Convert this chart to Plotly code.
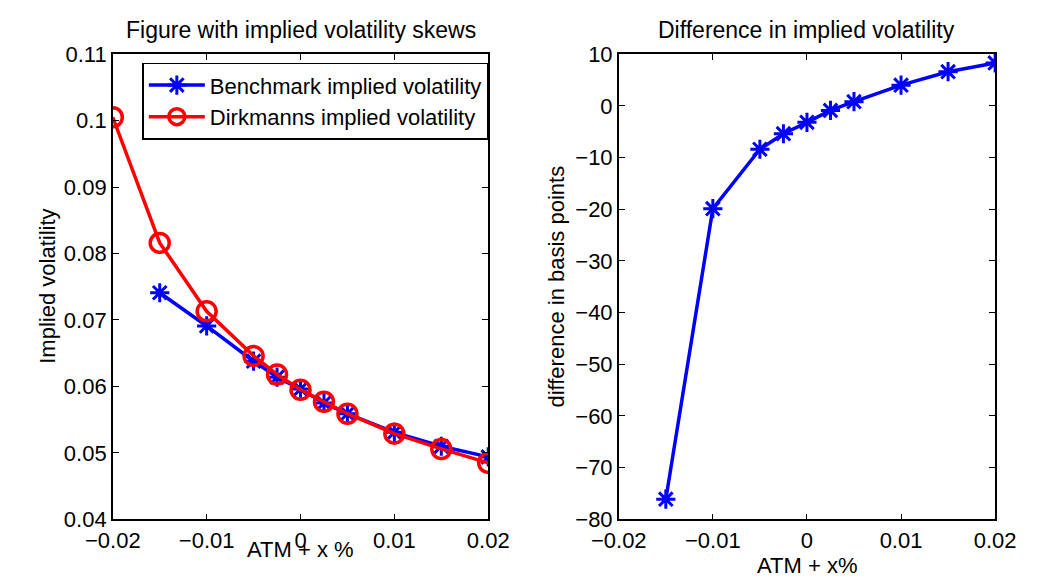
import plotly.graph_objects as go

# ---- data ----
x_bench = [-0.015, -0.01, -0.005, -0.0025, 0.0, 0.0025, 0.005, 0.01, 0.015, 0.02]
iv_bench = [0.0741, 0.0691, 0.0638, 0.0614, 0.0596, 0.0575, 0.0559, 0.0531, 0.0510, 0.0494]

x_dirk = [-0.02, -0.015, -0.01, -0.005, -0.0025, 0.0, 0.0025, 0.005, 0.01, 0.015, 0.02]
iv_dirk = [0.1005, 0.0816, 0.0713, 0.0646, 0.0618, 0.0595, 0.0577, 0.0559, 0.0529, 0.0506, 0.0485]

x_diff = [-0.015, -0.01, -0.005, -0.0025, 0.0, 0.0025, 0.005, 0.01, 0.015, 0.02]
diff_bp = [-76.1, -19.9, -8.4, -5.4, -3.2, -0.9, 0.8, 4.0, 6.6, 8.3]

left_xticks = [-0.02, -0.01, 0, 0.01, 0.02]
left_xlabels = ["\u22120.02", "\u22120.01", "0", "0.01", "0.02"]
left_yticks = [0.04, 0.05, 0.06, 0.07, 0.08, 0.09, 0.1, 0.11]
left_ylabels = ["0.04", "0.05", "0.06", "0.07", "0.08", "0.09", "0.1", "0.11"]
right_xticks = [-0.02, -0.01, 0, 0.01, 0.02]
right_xlabels = ["\u22120.02", "\u22120.01", "0", "0.01", "0.02"]
right_yticks = [-80, -70, -60, -50, -40, -30, -20, -10, 0, 10]
right_ylabels = ["\u221280", "\u221270", "\u221260", "\u221250", "\u221240",
                 "\u221230", "\u221220", "\u221210", "0", "10"]

FONT = "Liberation Sans, Arial, Helvetica, sans-serif"
FS = 22
FT = 23
BLUE = "#0000FF"
RED = "#FF0000"

fig = go.Figure()

fig.add_trace(go.Scatter(
    x=x_bench, y=iv_bench, mode="lines+markers", name="Benchmark implied volatility",
    line=dict(color=BLUE, width=3.5),
    marker=dict(symbol="asterisk-open", size=16, color=BLUE, line=dict(color=BLUE, width=3)),
    xaxis="x", yaxis="y"))
fig.add_trace(go.Scatter(
    x=x_dirk, y=iv_dirk, mode="lines+markers", name="Dirkmanns implied volatility",
    line=dict(color=RED, width=3.5),
    marker=dict(symbol="circle-open", size=19, color=RED, line=dict(color=RED, width=3.5)),
    xaxis="x", yaxis="y"))
fig.add_trace(go.Scatter(
    x=x_diff, y=diff_bp, mode="lines+markers", name="difference", showlegend=False,
    line=dict(color=BLUE, width=3.5),
    marker=dict(symbol="asterisk-open", size=16, color=BLUE, line=dict(color=BLUE, width=3)),
    xaxis="x2", yaxis="y2"))

W, H = 1039, 586
L1, R1 = 89 / W, 483 / W
L2, R2 = 620 / W, 1015 / W
B, T = 1 - 530 / H, 1 - 44 / H

axis_common = dict(
    showline=True, linecolor="black", linewidth=1.5, mirror="ticks",
    ticks="inside", ticklen=6, tickwidth=1, tickcolor="black",
    showgrid=False, zeroline=False,
    tickfont=dict(family=FONT, size=FS, color="black"),
)

fig.update_layout(
    width=W, height=H,
    margin=dict(l=0, r=0, t=0, b=0),
    paper_bgcolor="white", plot_bgcolor="white",
    font=dict(family=FONT, size=FS, color="black"),
    showlegend=True,
    xaxis=dict(domain=[L1, R1], range=[-0.02, 0.02], tickvals=left_xticks,
               ticktext=left_xlabels, anchor="y", **axis_common),
    yaxis=dict(domain=[B, T], range=[0.04, 0.11], tickvals=left_yticks,
               ticktext=left_ylabels, anchor="x", **axis_common),
    xaxis2=dict(domain=[L2, R2], range=[-0.02, 0.02], tickvals=right_xticks,
                ticktext=right_xlabels, anchor="y2", **axis_common),
    yaxis2=dict(domain=[B, T], range=[-80, 10], tickvals=right_yticks,
                ticktext=right_ylabels, anchor="x2", **axis_common),
    legend=dict(x=120 / W, y=1 - 53 / H, xanchor="left", yanchor="top",
                bgcolor="white", bordercolor="black", borderwidth=1.5,
                font=dict(family=FONT, size=FS, color="black"),
                itemwidth=56, tracegroupgap=0),
)

ann = [
    dict(text="Figure with implied volatility skews", x=(L1 + R1) / 2, y=1 - 19 / H, xref="paper", yref="paper",
         xanchor="center", yanchor="middle", showarrow=False, font=dict(family=FONT, size=FT)),
    dict(text="Difference in implied volatility", x=(L2 + R2) / 2, y=1 - 19 / H, xref="paper", yref="paper",
         xanchor="center", yanchor="middle", showarrow=False, font=dict(family=FONT, size=FT)),
    dict(text="ATM + x %", x=(L1 + R1) / 2, y=1 - 561 / H, xref="paper", yref="paper",
         xanchor="center", yanchor="middle", showarrow=False, font=dict(family=FONT, size=FS)),
    dict(text="ATM + x%", x=(L2 + R2) / 2, y=1 - 578 / H, xref="paper", yref="paper",
         xanchor="center", yanchor="middle", showarrow=False, font=dict(family=FONT, size=FS)),
    dict(text="Implied volatility", x=21 / W, y=(B + T) / 2, xref="paper", yref="paper", textangle=-90,
         xanchor="center", yanchor="middle", showarrow=False, font=dict(family=FONT, size=FS)),
    dict(text="difference in basis points", x=555 / W, y=(B + T) / 2, xref="paper", yref="paper", textangle=-90,
         xanchor="center", yanchor="middle", showarrow=False, font=dict(family=FONT, size=FS)),
]
fig.update_layout(annotations=ann)

fig.write_html("out.html")
